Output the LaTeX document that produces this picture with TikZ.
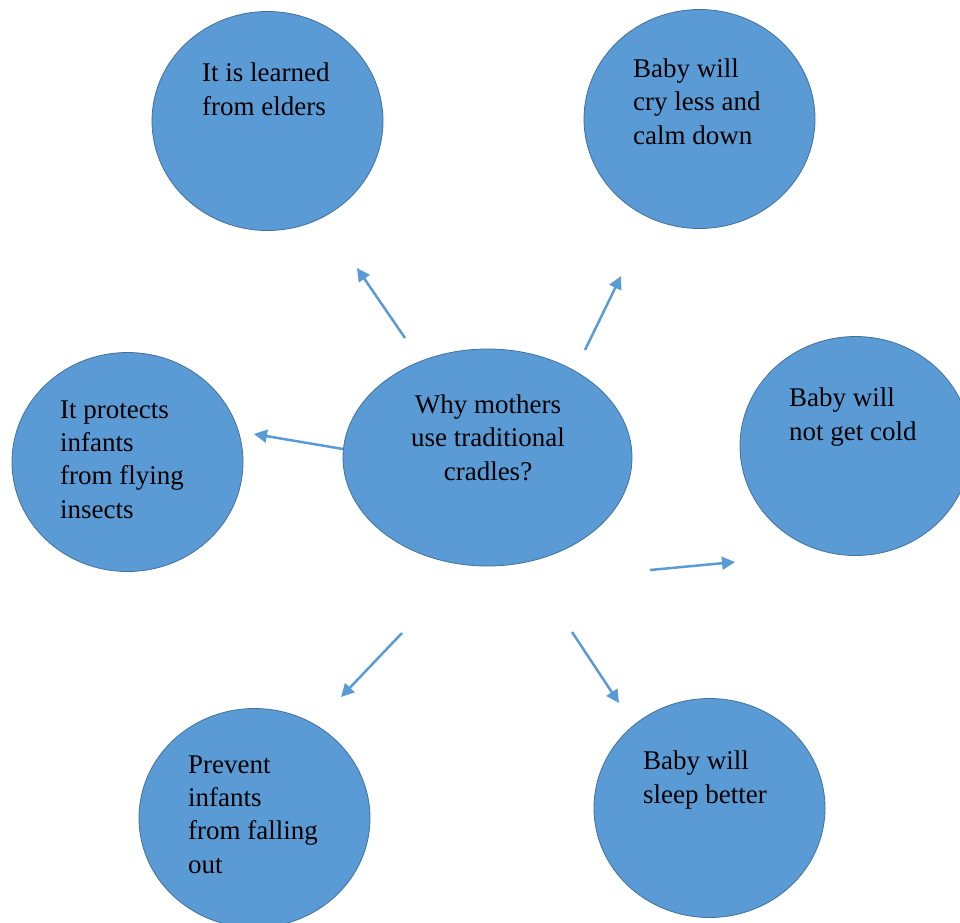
\documentclass[tikz,border=0pt]{standalone}
\usepackage{fontspec}
\setmainfont{Liberation Serif}
\usetikzlibrary{shapes.geometric,arrows.meta}
\definecolor{bubblefill}{HTML}{5B9BD5}
\definecolor{bubbleline}{HTML}{41719C}
\newcommand{\drawarrows}[1] {
    \foreach \ax/\ay/\bx/\by in #1 {
      \coordinate (tail) at (\ax,\ay);
      \coordinate (tip) at (\bx,\by);
      \draw[arrow] (tail) -- (tip);
    }
}

\begin{document}
\begin{tikzpicture}[x=1pt, y=-1pt,
    bubble/.style={ellipse, fill=bubblefill, draw=bubbleline, line width=0.8pt,
      minimum width=231pt, minimum height=219pt, inner sep=0pt},
    words/.style={anchor=base west, align=left, inner sep=0pt,
      font=\fontsize{27}{33.3}\selectfont},
    arrow/.style={->, draw=bubblefill, line width=2.5pt},
    >={Triangle[length=13pt, width=13pt]}]
    \useasboundingbox (0,0) rectangle (960,922);
    \clip (0,0) rectangle (960,922);
    % the circles
    \node[bubble] (elders) at (267.5,121) {};
    \node[bubble] (calm) at (699.5,119) {};
    \node[bubble] (insects) at (127.5,462) {};
    \node[bubble, minimum width=289pt, minimum height=217pt] (why) at (487.5,457.5) {};
    \node[bubble] (cold) at (855.5,446) {};
    \node[bubble] (falling) at (254.5,818) {};
    \node[bubble] (sleep) at (709.5,808) {};
    % their texts (placed at the baseline of the last line)
    \node[words] (elderstext) at (202,115) {It is learned\\from elders};
    \node[words] (calmtext) at (633,144) {Baby will\\cry less and\\calm down};
    \node[words] (insectstext) at (60,518) {It protects\\infants\\from flying\\insects};
    \node[words, anchor=base, align=center] (whytext) at (488,480) {Why mothers\\use traditional\\cradles?};
    \node[words] (coldtext) at (789,440) {Baby will\\not get cold};
    \node[words] (fallingtext) at (188,873) {Prevent\\infants\\from falling\\out};
    \node[words] (sleeptext) at (643,803) {Baby will\\sleep better};
    \drawarrows{{405/338/357/268, 585/350/621/276, 343/449/254/434,
      650/570/735/562, 402/633/341/697, 572/632/619/703}}
\end{tikzpicture}
\end{document}
